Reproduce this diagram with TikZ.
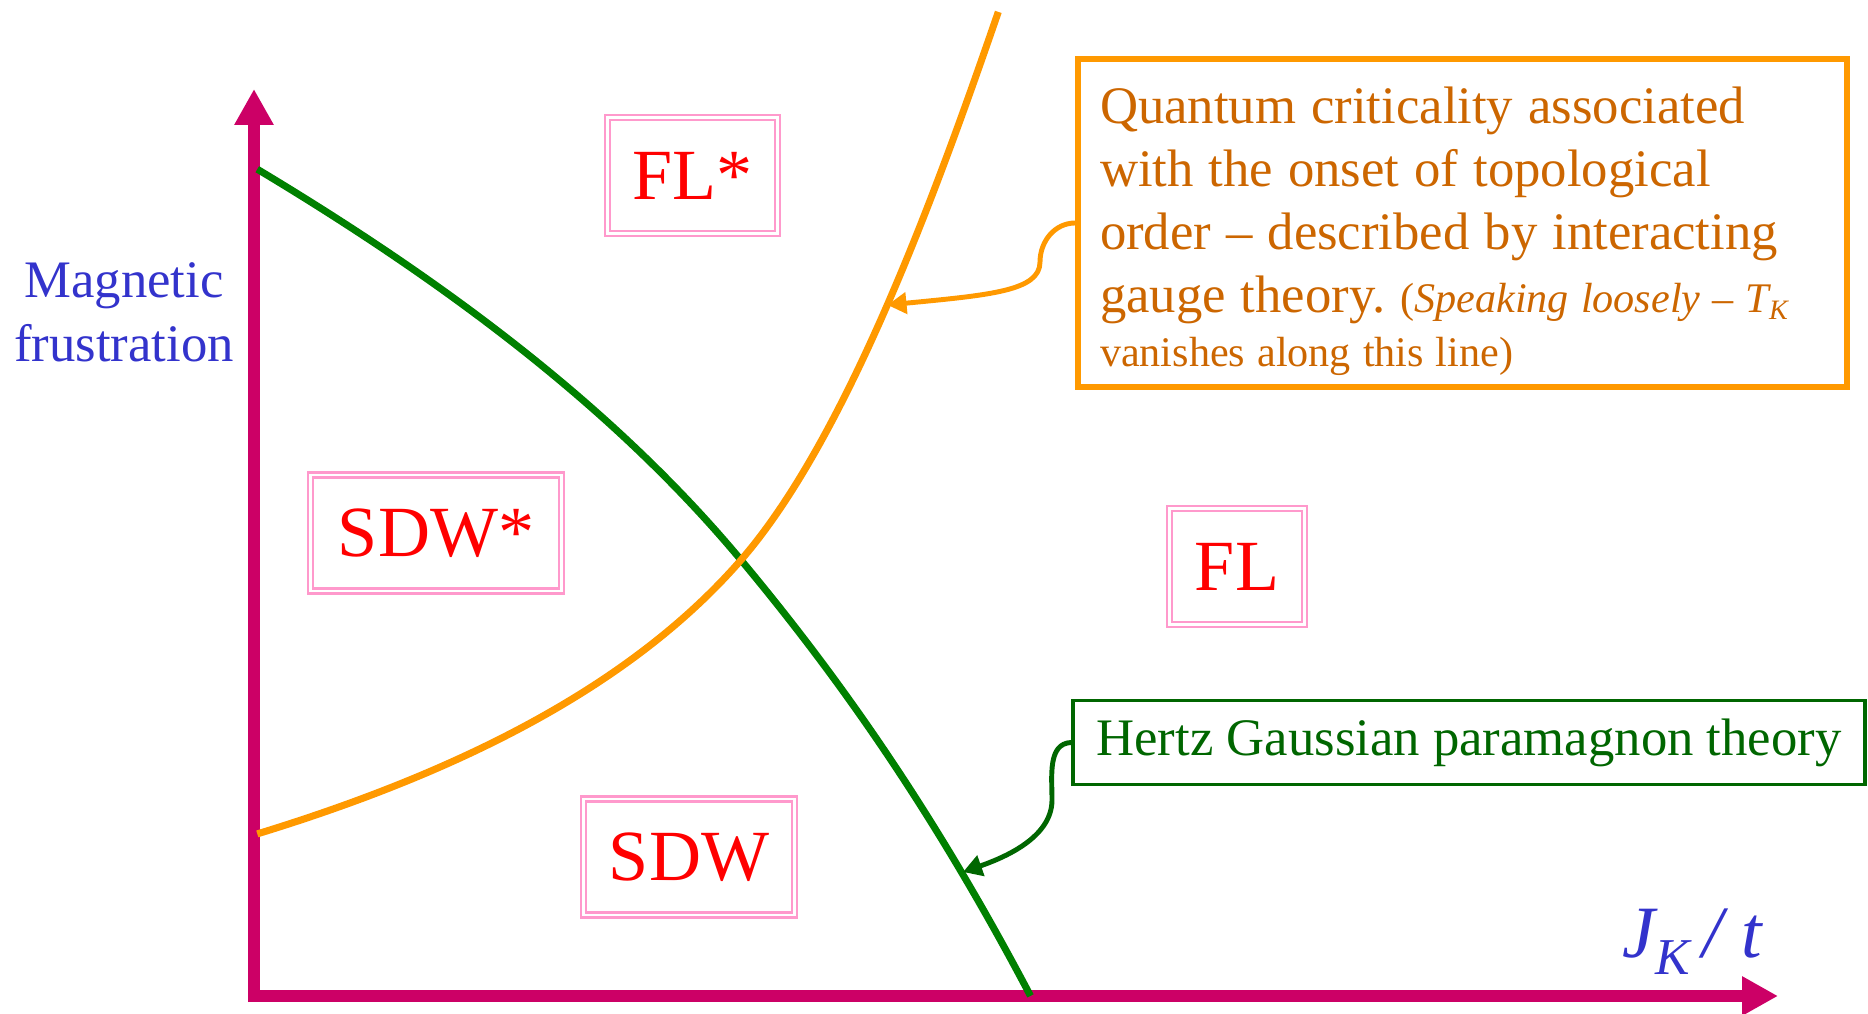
\documentclass[tikz,border=0pt]{standalone}
\usepackage{fontspec}
\setmainfont{Liberation Serif}
\usetikzlibrary{arrows.meta}

\definecolor{axiscol}{RGB}{204,0,102}
\definecolor{labelblue}{RGB}{51,51,204}
\definecolor{orangeline}{RGB}{255,153,0}
\definecolor{orangetext}{RGB}{204,102,0}
\definecolor{greenline}{RGB}{0,128,0}
\definecolor{greendark}{RGB}{0,102,0}
\definecolor{pinkbox}{RGB}{255,153,204}

\begin{document}
\begin{tikzpicture}[
	phasebox/.style={draw=pinkbox, double=white, double distance=0.7pt,
		line width=0.65pt, text=red, inner sep=0pt,
		font=\fontsize{20.5}{24}\selectfont, minimum height=1.16cm},
	axis/.style={draw=axiscol, line width=3.4pt,
		-{Triangle[length=0.36cm,width=0.37cm]}},
	pointer/.style={line width=1.4pt,
		-{Triangle[length=0.19cm,width=0.21cm]}}
	]
				\useasboundingbox (0,0) rectangle (18.68,10.13);
				
				% Axes
				\coordinate (origin) at (2.54,0.17);
				\coordinate (yend) at (2.54,9.24);
				\coordinate (xend) at (17.78,0.17);
				\draw[axis] ([yshift=-0.06cm]origin) -- (yend);
				\draw[axis] ([xshift=-0.06cm]origin) -- (xend);
				
				% Axis labels
				\node[
				text=labelblue,
				align=center,
				inner sep=0pt,
				font=\fontsize{15}{18.2}\selectfont
				] (ylab) at (1.24,7.01)
				{Magnetic\\frustration};
				
				\node[
				text=labelblue,
				anchor=base,
				inner sep=0pt,
				font=\fontsize{21}{25}\selectfont\itshape
				] (xlab) at (16.92,0.56)
				{J\raisebox{-5pt}{\fontsize{14.7}{16}\selectfont K}\,/ t};
				
				% Phase boundaries
				\coordinate (cross) at (7.41,4.53);
				\draw[greenline, line width=2pt] (2.573,8.438)
				.. controls (4.36,7.366) and (6.099,6.103) .. (cross)
				.. controls (8.422,3.316) and (9.352,1.981) .. (10.305,0.171);
				\draw[orangeline, line width=2pt] (2.573,1.791)
				.. controls (4.36,2.339) and (6.219,3.161) .. (cross)
				.. controls (8.482,5.764) and (9.387,8.283) .. (9.983,10.011);
				
				% Phases
				\node[phasebox, minimum width=1.70cm] (flstar) at (6.925,8.375) {FL*};
				\node[phasebox, minimum width=2.51cm] (sdwstar) at (4.36,4.80) {SDW*};
				\node[phasebox, minimum width=1.35cm] (fl) at (12.37,4.465) {FL};
				\node[phasebox, minimum width=2.11cm] (sdw) at (6.89,1.56) {SDW};
				
				% Comment boxes
				\node[
				draw=orangeline,
				line width=1.6pt,
				text=orangetext,
				text width=7.25cm,
				minimum width=7.67cm,
				minimum height=3.28cm,
				align=left,
				inner xsep=0.22cm,
				inner ysep=0.05cm,
				font=\fontsize{15}{18}\selectfont
				] (qc) at (14.625,7.90)
				{\frenchspacing\spaceskip=0.285em\relax
					\rule{0pt}{15pt}Quantum criticality associated\\
					with the onset of topological\\
					order -- described by interacting\\
					gauge theory. {\fontsize{12}{14}\selectfont\spaceskip=0.285em\relax (\textit{Speaking loosely -- T\textsubscript{K}}}\\[-2.8pt]
					{\fontsize{12}{14}\selectfont\spaceskip=0.285em\relax vanishes along this line)}};
				
				\node[
				draw=greendark,
				line width=1pt,
				text=greendark,
				minimum width=7.92cm,
				minimum height=0.84cm,
				inner sep=0pt,
				font=\fontsize{15}{18}\selectfont
				] (hg) at (14.69,2.705)
				{Hertz Gaussian paramagnon theory};
				
				% Pointers
				\coordinate (qctip) at (8.875,7.08);
				\coordinate (hgtip) at (9.63,1.41);
				\draw[pointer, orangeline] (qc.west) to[out=180, in=90] (10.40,7.51)
				.. controls (10.40,7.22) and (9.90,7.18) .. (qctip);
				\draw[pointer, greendark] (hg.west) to[out=182, in=90] (10.52,2.13)
				.. controls (10.52,1.75) and (10.03,1.55) .. (hgtip);
			\end{tikzpicture}
\end{document}
